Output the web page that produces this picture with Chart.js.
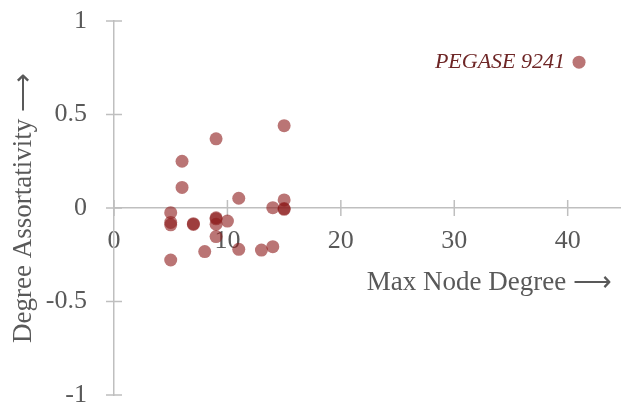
<!DOCTYPE html>
<html>
<head>
<meta charset="utf-8">
<script src="https://cdn.jsdelivr.net/npm/chart.js@4/dist/chart.umd.min.js"></script>
<style>
  html, body { margin: 0; padding: 0; background: #fff; }
</style>
</head>
<body>
<canvas id="myChart" width="621" height="405"></canvas>
<script>
// one point per test system
const maxDegree = [15, 9, 6, 6, 11, 15, 14, 15, 15, 5, 5, 5, 7, 7, 9, 9, 9, 10, 9, 8, 11, 13, 14, 5, 41];
const assortativity = [0.44, 0.37, 0.25, 0.11, 0.052, 0.043, 0.002, -0.003, -0.007, -0.025, -0.077, -0.09, -0.084, -0.088, -0.052, -0.058, -0.087, -0.07, -0.153, -0.233, -0.221, -0.225, -0.207, -0.278, 0.78];
const pointNames = ['', '', '', '', '', '', '', '', '', '', '', '', '', '', '', '', '', '', '', '', '', '', '', '', 'PEGASE 9241'];

const xTitle = 'Max Node Degree \u27F6';
const yTitle = 'Degree Assortativity \u27F6';

const serif = "'Liberation Serif', 'Times New Roman', serif";
const axisGray = '#bfbfbf';
const textGray = '#595959';
const dotColor = 'rgba(140, 25, 25, 0.6)';

const points = maxDegree.map((d, i) => ({x: d, y: assortativity[i]}));

function noPad(scale) {
  scale.paddingTop = 0; scale.paddingBottom = 0;
  scale.paddingLeft = 0; scale.paddingRight = 0;
}

// tick marks that cross the axis lines, x title and the point label
const axisDecor = {
  id: 'axisDecor',
  beforeDatasetsDraw(chart) {
    const ctx = chart.ctx;
    const xs = chart.scales.x, ys = chart.scales.y;
    const x0 = xs.getPixelForValue(0), y0 = ys.getPixelForValue(0);
    ctx.save();
    ctx.strokeStyle = axisGray;
    ctx.lineWidth = 1.5;
    ctx.beginPath();
    xs.ticks.forEach(t => {
      const px = xs.getPixelForValue(t.value);
      ctx.moveTo(px, y0 - 8); ctx.lineTo(px, y0 + 8);
    });
    ys.ticks.forEach(t => {
      const py = ys.getPixelForValue(t.value);
      ctx.moveTo(x0 - 8, py); ctx.lineTo(x0 + 8, py);
    });
    ctx.stroke();
    ctx.restore();
  },
  afterDraw(chart) {
    const ctx = chart.ctx;
    const y0 = chart.scales.y.getPixelForValue(0);
    ctx.save();
    ctx.fillStyle = textGray;
    ctx.font = '27px ' + serif;
    ctx.textBaseline = 'middle';
    ctx.textAlign = 'right';
    ctx.fillText(xTitle, 612, y0 + 75);
    ctx.restore();

    const meta = chart.getDatasetMeta(0);
    ctx.save();
    ctx.fillStyle = '#6e2626';
    ctx.font = 'italic 22px ' + serif;
    ctx.textAlign = 'right';
    ctx.textBaseline = 'middle';
    pointNames.forEach((name, i) => {
      if (!name) return;
      const el = meta.data[i];
      ctx.fillText(name, el.x - 14, el.y);
    });
    ctx.restore();
  }
};

const myChart = new Chart('myChart', {
  type: 'scatter',
  data: {
    datasets: [{
      data: points,
      backgroundColor: dotColor,
      borderWidth: 0,
      pointRadius: 6.5,
      pointHoverRadius: 6.5
    }]
  },
  options: {
    responsive: false,
    animation: false,
    layout: {autoPadding: false, padding: {left: 0, top: 21, right: 0, bottom: 10}},
    plugins: {legend: {display: false}, tooltip: {enabled: false}},
    scales: {
      x: {
        type: 'linear',
        position: {y: 0},
        min: 0,
        max: 44.7,
        afterFit(scale) { scale.height = 0; noPad(scale); },
        grid: {display: true, drawOnChartArea: false, drawTicks: false},
        border: {color: axisGray, width: 1.5},
        ticks: {stepSize: 10, includeBounds: false, padding: 18, color: textGray, font: {family: serif, size: 26}}
      },
      y: {
        type: 'linear',
        position: 'left',
        min: -1,
        max: 1,
        afterFit(scale) { scale.width = 114; noPad(scale); },
        grid: {display: true, drawOnChartArea: false, drawTicks: false},
        border: {color: axisGray, width: 1.5},
        title: {display: true, text: yTitle, color: textGray, font: {family: serif, size: 27}, padding: {top: 8, bottom: 0}},
        ticks: {stepSize: 0.5, padding: 27, color: textGray, font: {family: serif, size: 26},
          callback: v => String(v)}
      }
    }
  },
  plugins: [axisDecor]
});
</script>
</body>
</html>
